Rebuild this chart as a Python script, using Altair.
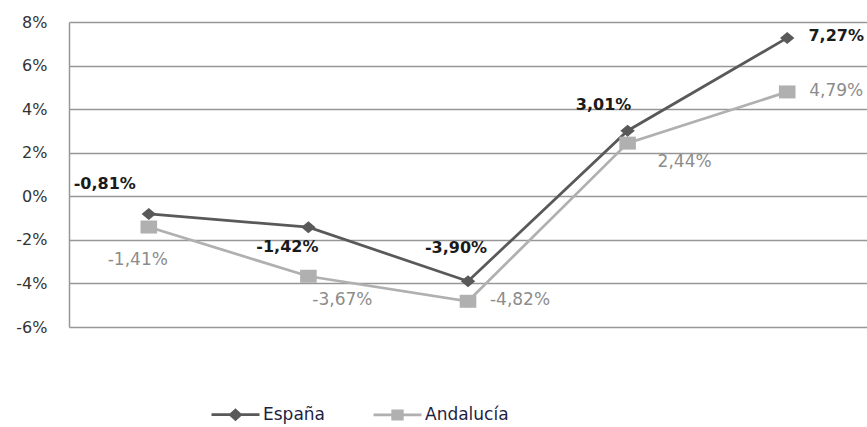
import altair as alt
import pandas as pd

# Annual variation (%) for each series
periodos = ["P1", "P2", "P3", "P4", "P5"]
espana = [-0.81, -1.42, -3.90, 3.01, 7.27]
andalucia = [-1.41, -3.67, -4.82, 2.44, 4.79]
series = ["España", "Andalucía"]
y_ticks = [-6, -4, -2, 0, 2, 4, 6, 8]

rows = []
for s, vals in zip(series, [espana, andalucia]):
    for p, v in zip(periodos, vals):
        rows.append({"serie": s, "periodo": p, "valor": v})
df = pd.DataFrame(rows)

FONT = "DejaVu Sans"
COL_ESP = "#595959"
COL_AND = "#b0b0b0"
GRID = "#979797"

# marker outlines in Vega's [-1, 1] symbol space (slightly wider than tall)
DIAMOND = "M0,-0.6L0.72,0L0,0.6L-0.72,0Z"
SQUARE = "M-0.83,-0.65H0.83V0.65H-0.83Z"
# legend glyphs: a line segment with the marker in the middle
LEG_ESP = "M-1,0H1M0,-0.19L0.21,0L0,0.19L-0.21,0Z"
LEG_AND = "M-1,0H1M-0.2,-0.17H0.2V0.17H-0.2Z"

x_enc = alt.X("periodo:O", axis=None, sort=periodos,
              scale=alt.Scale(type="point", padding=0.5))
y_enc = alt.Y(
    "valor:Q",
    scale=alt.Scale(domain=[-6, 8], nice=False, zero=False),
    axis=alt.Axis(
        values=y_ticks, labelExpr="datum.value + '%'", title=None,
        ticks=False, domain=True, domainColor=GRID, domainWidth=1.5,
        grid=True, gridColor=GRID, gridWidth=1.5,
        labelFont=FONT, labelFontSize=16, labelColor="#333333",
        labelPadding=22,
    ),
)

base = alt.Chart(df).encode(x=x_enc, y=y_enc)

style = {
    "Andalucía": dict(color=COL_AND, shape=SQUARE, text_color="#8c8c8c",
                      weight="normal", size=17),
    "España": dict(color=COL_ESP, shape=DIAMOND, text_color="#1a1a1a",
                   weight="bold", size=16),
}
# text offsets (dx, dy) for each point's value label
offsets = {
    "España": [(-44, -30), (-21, 20), (-12, -33), (-24, -26), (49, -2)],
    "Andalucía": [(-11, 33), (34, 24), (52, -1), (57, 19), (49, -1)],
}

layers = []
for s in ["Andalucía", "España"]:
    st = style[s]
    sub = base.transform_filter(alt.datum.serie == s)
    layers.append(sub.mark_line(color=st["color"], strokeWidth=2.75))
for s in ["Andalucía", "España"]:
    st = style[s]
    sub = base.transform_filter(alt.datum.serie == s)
    layers.append(sub.mark_point(filled=True, size=400, opacity=1,
                                 color=st["color"], shape=st["shape"]))

# value labels in Spanish notation: hyphen minus, decimal comma
label_expr = ("(datum.valor < 0 ? '-' : '') + "
              "replace(format(abs(datum.valor), '.2f'), '.', ',') + '%'")
for s in ["Andalucía", "España"]:
    st = style[s]
    for p, (dx, dy) in zip(periodos, offsets[s]):
        layers.append(
            base.transform_filter((alt.datum.serie == s) & (alt.datum.periodo == p))
            .transform_calculate(etiqueta=label_expr)
            .mark_text(dx=dx, dy=dy, font=FONT, fontSize=st["size"],
                       fontWeight=st["weight"], color=st["text_color"])
            .encode(text="etiqueta:N")
        )

# legend carrier layer (no marks drawn)
leg_scale_c = alt.Scale(domain=series, range=[COL_ESP, COL_AND])
leg_scale_s = alt.Scale(domain=series, range=[LEG_ESP, LEG_AND])
legend_layer = (
    alt.Chart(df)
    .transform_filter("false")
    .mark_point(filled=True, size=2304, opacity=1, strokeWidth=2.75)
    .encode(
        fill=alt.Fill("serie:N", scale=leg_scale_c, title=None),
        stroke=alt.Stroke("serie:N", scale=leg_scale_c, title=None),
        shape=alt.Shape("serie:N", scale=leg_scale_s, title=None),
    )
)
layers.append(legend_layer)

chart = (
    alt.layer(*layers)
    .properties(
        width=798, height=305,
        padding={"left": 69, "top": 22, "right": 0, "bottom": 100},
        autosize=alt.AutoSizeParams(type="none"),
        background="white",
    )
    .configure_view(stroke=None)
    .configure_legend(
        orient="none", legendX=141, legendY=367, direction="horizontal",
        symbolSize=2304, symbolStrokeWidth=2.75, symbolOpacity=1,
        labelFont=FONT, labelFontSize=17, labelColor="#1f1f3f",
        labelOffset=2, columnPadding=43, padding=0,
    )
)

chart.save("out.html", embed_options={"renderer": "svg", "actions": False})
